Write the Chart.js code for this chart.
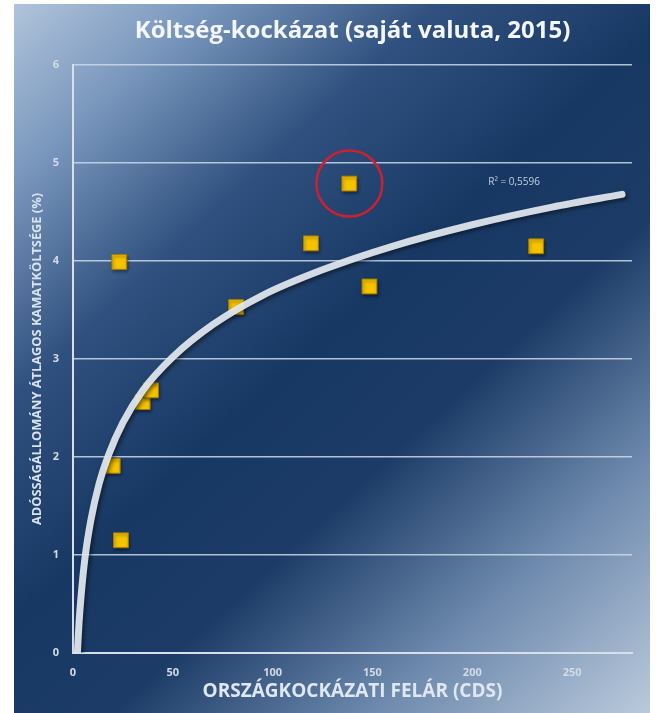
<!DOCTYPE html>
<html>
<head>
<meta charset="utf-8">
<script src="https://cdn.jsdelivr.net/npm/chart.js@4.4.1/dist/chart.umd.min.js"></script>
<style>
  html, body { margin: 0; padding: 0; background: #ffffff; }
  #wrap { width: 656px; height: 713px; }
</style>
</head>
<body>
<div id="wrap"><canvas id="c" width="656" height="713"></canvas></div>
<script>
// ---- data ----
const chartTitle = 'Költség-kockázat (saját valuta, 2015)';
const xAxisTitle = 'ORSZÁGKOCKÁZATI FELÁR (CDS)';
const yAxisTitle = 'ADÓSSÁGÁLLOMÁNY ÁTLAGOS KAMATKÖLTSÉGE (%)';
const cdsValues  = [23.2, 19.9, 24.0, 34.9, 39.1, 81.7, 119.2, 138.4, 148.5, 232.0];
const rateValues = [3.99, 1.91, 1.15, 2.56, 2.68, 3.53, 4.18, 4.79, 3.74, 4.15];
const highlightIndex = 7;
const trendX = [2.2, 2.6, 3, 4, 6, 9, 13, 18, 25, 35, 50, 70, 95, 125, 160, 200, 240, 275];
const trendY = [0.0, 0.16, 0.30, 0.57, 0.97, 1.36, 1.72, 2.03, 2.35, 2.68, 3.02, 3.35, 3.65, 3.91, 4.15, 4.37, 4.55, 4.68];
const r2Label = 'R² = 0,5596';
const r2AtX = 208;
const r2AtY = 4.80;
const xMin = 0, xMax = 280, xStep = 50;
const yMin = 0, yMax = 6, yStep = 1;

const points = cdsValues.map((x, i) => ({ x: x, y: rateValues[i] }));
const trend = trendX.map((x, i) => ({ x: x, y: trendY[i] }));
const highlight = [{ x: cdsValues[highlightIndex], y: rateValues[highlightIndex] }];

const bgPlugin = {
  id: 'bg',
  beforeDraw(chart) {
    const ctx = chart.ctx;
    const W = chart.width, H = chart.height;
    ctx.save();
    ctx.fillStyle = '#ffffff';
    ctx.fillRect(0, 0, W, H);
    const g = ctx.createLinearGradient(0, 0, W, H);
    g.addColorStop(0.00, '#b6c8de');
    g.addColorStop(0.15, '#7896bc');
    g.addColorStop(0.31, '#30517f');
    g.addColorStop(0.48, '#183864');
    g.addColorStop(0.62, '#1c3c67');
    g.addColorStop(0.80, '#6d89ad');
    g.addColorStop(1.00, '#bccbdd');
    ctx.fillStyle = g;
    ctx.fillRect(14, 4, 636, H - 4);
    ctx.restore();
  }
};

const shadowPlugin = {
  id: 'shadows',
  beforeDatasetDraw(chart, args) {
    const ctx = chart.ctx;
    ctx.save();
    if (args.index === 1) {
      ctx.shadowColor = 'rgba(0,0,0,0.55)';
      ctx.shadowBlur = 4;
      ctx.shadowOffsetX = 2;
      ctx.shadowOffsetY = 2;
    } else if (args.index === 0) {
      ctx.shadowColor = 'rgba(0,0,0,0.45)';
      ctx.shadowBlur = 3;
      ctx.shadowOffsetX = 1;
      ctx.shadowOffsetY = 2;
    }
  },
  afterDatasetDraw(chart) {
    chart.ctx.restore();
  }
};

const r2Plugin = {
  id: 'r2',
  afterDatasetsDraw(chart) {
    const ctx = chart.ctx;
    const xs = chart.scales.x, ys = chart.scales.y;
    ctx.save();
    ctx.font = '10px "Open Sans"';
    ctx.fillStyle = '#c3cfdd';
    ctx.textAlign = 'left';
    ctx.textBaseline = 'middle';
    ctx.fillText(r2Label, xs.getPixelForValue(r2AtX), ys.getPixelForValue(r2AtY));
    ctx.restore();
  }
};

new Chart(document.getElementById('c'), {
  type: 'scatter',
  data: {
    datasets: [
      {
        label: 'pontok',
        data: points,
        pointStyle: 'rect',
        pointRadius: 10.5,
        pointHoverRadius: 10.5,
        backgroundColor: '#f5c300',
        borderColor: '#a87d00',
        borderWidth: 1,
        order: 2
      },
      {
        label: 'trend',
        type: 'line',
        data: trend,
        showLine: true,
        borderColor: 'rgba(226,232,240,0.93)',
        borderWidth: 7,
        borderCapStyle: 'round',
        borderJoinStyle: 'round',
        cubicInterpolationMode: 'monotone',
        pointRadius: 0,
        pointHoverRadius: 0,
        fill: false,
        order: 1
      },
      {
        label: 'kiemelés',
        data: highlight,
        pointStyle: 'circle',
        pointRadius: 33,
        pointHoverRadius: 33,
        backgroundColor: 'rgba(0,0,0,0)',
        borderColor: '#d01f30',
        borderWidth: 2.5,
        order: 0
      }
    ]
  },
  options: {
    responsive: false,
    animation: false,
    events: [],
    layout: { autoPadding: false, padding: { top: 0, left: 0, right: 24, bottom: 0 } },
    plugins: {
      legend: { display: false },
      tooltip: { enabled: false },
      title: {
        display: true,
        fullSize: false,
        text: chartTitle,
        color: '#f3f6fa',
        font: { family: '"Open Sans"', size: 24, weight: 'bold' },
        padding: { top: 16.6, bottom: 19.6 }
      }
    },
    scales: {
      x: {
        type: 'linear',
        min: xMin,
        max: xMax,
        afterFit(scale) { scale.height = 60; },
        ticks: {
          stepSize: xStep,
          includeBounds: false,
          color: '#d3dbe6',
          font: { family: '"Open Sans"', size: 11, weight: 'bold' },
          padding: 13
        },
        grid: { display: false, drawTicks: false },
        border: { display: true, color: '#d6dfea', width: 2 },
        title: {
          display: true,
          text: xAxisTitle,
          color: '#dfe7f0',
          font: { family: '"Open Sans"', size: 19, weight: 'bold' },
          padding: { top: 2, bottom: 9.6 }
        }
      },
      y: {
        type: 'linear',
        min: yMin,
        max: yMax,
        afterFit(scale) { scale.width = 73; },
        ticks: {
          stepSize: yStep,
          color: '#d3dbe6',
          font: { family: '"Open Sans"', size: 11, weight: 'bold' },
          padding: 14
        },
        grid: { color: 'rgba(205,218,234,0.85)', lineWidth: 1.5, drawTicks: false },
        border: { display: true, color: '#d6dfea', width: 2 },
        title: {
          display: true,
          text: yAxisTitle,
          color: '#dbe3ed',
          font: { family: '"Open Sans"', size: 12.8, weight: 'bold' },
          padding: { top: 29.2, bottom: 4 }
        }
      }
    }
  },
  plugins: [bgPlugin, shadowPlugin, r2Plugin]
});
</script>
</body>
</html>
